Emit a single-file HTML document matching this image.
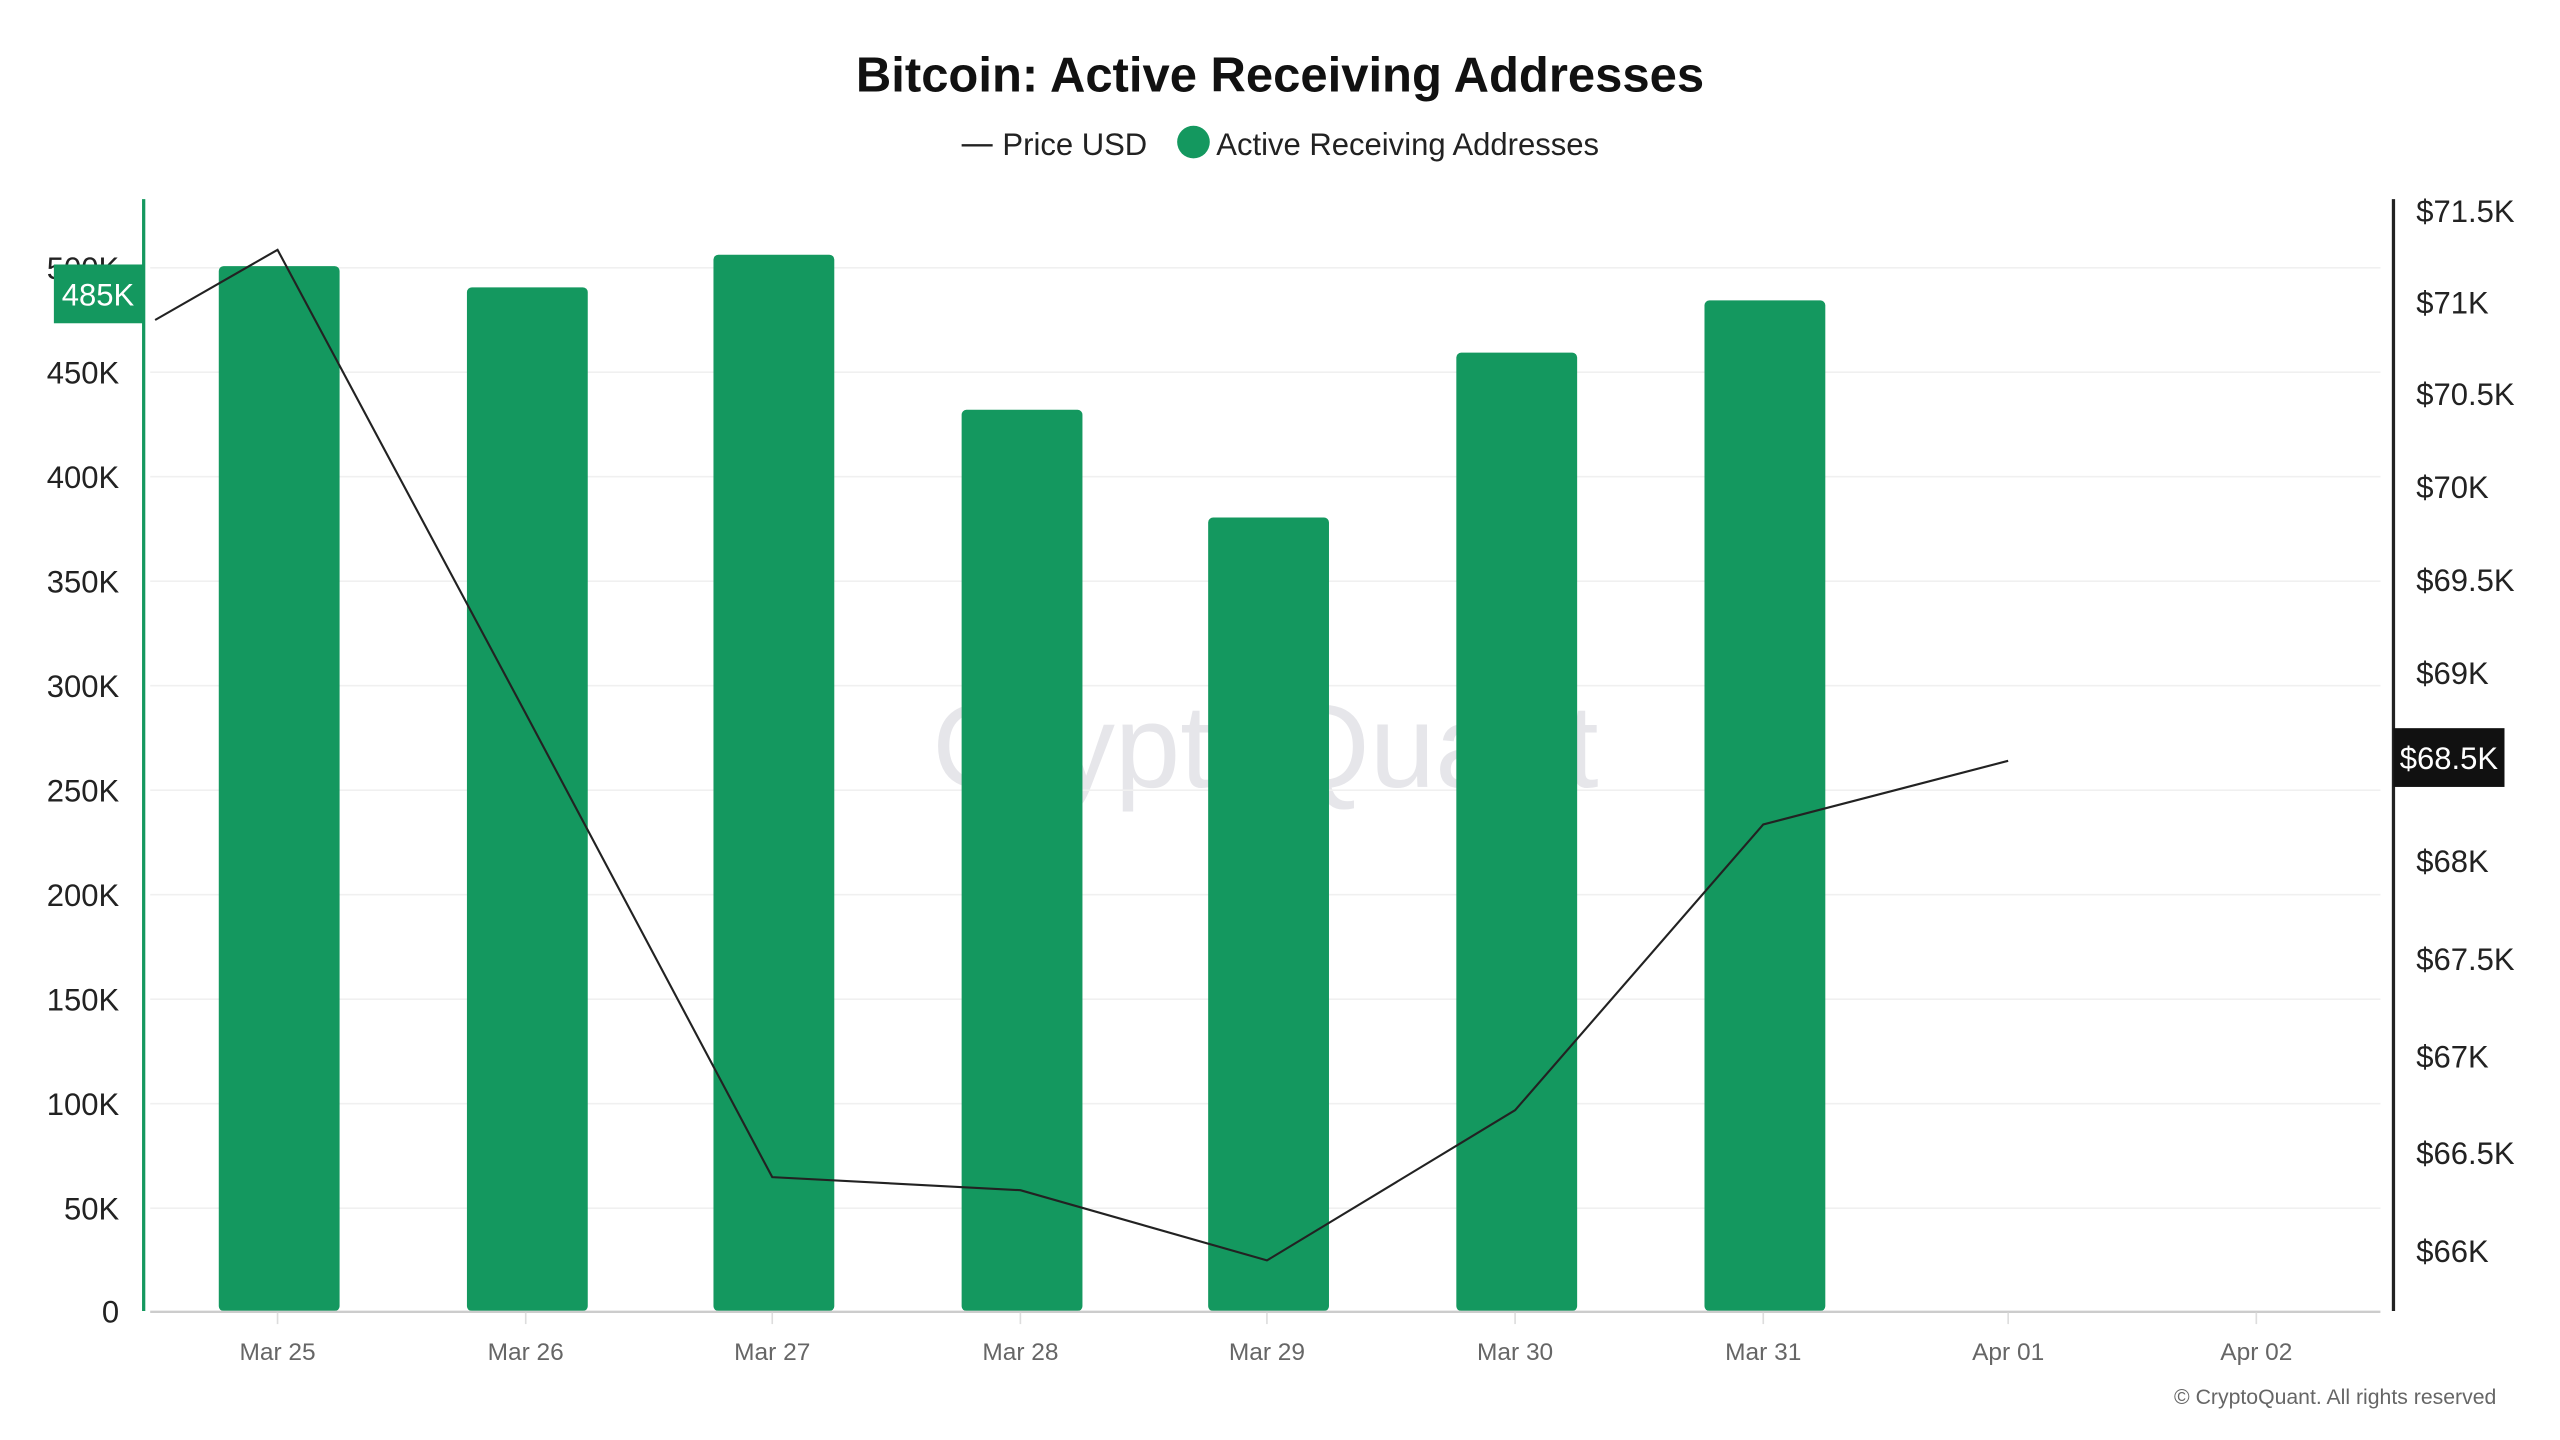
<!DOCTYPE html>
<html><head><meta charset="utf-8"><style>html,body{margin:0;padding:0;background:#fff}svg{display:block}</style></head>
<body>
<svg width="2560" height="1440" viewBox="0 0 1568 882" xmlns="http://www.w3.org/2000/svg" font-family="'Liberation Sans','DejaVu Sans',sans-serif">
<rect width="1568" height="882" fill="#fff"/>
<text x="784" y="56" text-anchor="middle" font-size="30" font-weight="bold" fill="#111">Bitcoin: Active Receiving Addresses</text>
<line x1="589" y1="89" x2="608" y2="89" stroke="#222" stroke-width="1.5"/>
<text x="614" y="95" font-size="19" fill="#222">Price USD</text>
<circle cx="731" cy="87" r="10" fill="#14985f"/>
<text x="745" y="95" font-size="19" fill="#222">Active Receiving Addresses</text>
<text x="775" y="482" text-anchor="middle" font-size="72" fill="#e6e6ea">CryptoQuant</text>
<g stroke="#f0f0f0" stroke-width="1">
<line x1="92" y1="164" x2="1458" y2="164"/><line x1="92" y1="228" x2="1458" y2="228"/><line x1="92" y1="292" x2="1458" y2="292"/><line x1="92" y1="356" x2="1458" y2="356"/><line x1="92" y1="420" x2="1458" y2="420"/><line x1="92" y1="484" x2="1458" y2="484"/><line x1="92" y1="548" x2="1458" y2="548"/><line x1="92" y1="612" x2="1458" y2="612"/><line x1="92" y1="676" x2="1458" y2="676"/><line x1="92" y1="740" x2="1458" y2="740"/>
</g>
<g fill="#14985f">
<rect x="134" y="163" width="74" height="640" rx="3"/>
<rect x="286" y="176" width="74" height="627" rx="3"/>
<rect x="437" y="156" width="74" height="647" rx="3"/>
<rect x="589" y="251" width="74" height="552" rx="3"/>
<rect x="740" y="317" width="74" height="486" rx="3"/>
<rect x="892" y="216" width="74" height="587" rx="3"/>
<rect x="1044" y="184" width="74" height="619" rx="3"/>
</g>
<polyline points="95,196 170,153 322,437 473,721 625,729 776,772 928,680 1080,505 1230,466" fill="none" stroke="#222" stroke-width="1.3"/>
<line x1="92" y1="803.5" x2="1458" y2="803.5" stroke="#ccc" stroke-width="1.5"/>
<g stroke="#ddd"><line x1="170" y1="804" x2="170" y2="811"/><line x1="322" y1="804" x2="322" y2="811"/><line x1="473" y1="804" x2="473" y2="811"/><line x1="625" y1="804" x2="625" y2="811"/><line x1="776" y1="804" x2="776" y2="811"/><line x1="928" y1="804" x2="928" y2="811"/><line x1="1080" y1="804" x2="1080" y2="811"/><line x1="1230" y1="804" x2="1230" y2="811"/><line x1="1382" y1="804" x2="1382" y2="811"/></g>
<g font-size="15" fill="#666" text-anchor="middle">
<text x="170" y="833">Mar 25</text><text x="322" y="833">Mar 26</text><text x="473" y="833">Mar 27</text><text x="625" y="833">Mar 28</text><text x="776" y="833">Mar 29</text><text x="928" y="833">Mar 30</text><text x="1080" y="833">Mar 31</text><text x="1230" y="833">Apr 01</text><text x="1382" y="833">Apr 02</text>
</g>
<line x1="88" y1="122" x2="88" y2="803" stroke="#14985f" stroke-width="2"/>
<g font-size="19" fill="#222" text-anchor="end">
<text x="73" y="171">500K</text><text x="73" y="235">450K</text><text x="73" y="299">400K</text><text x="73" y="363">350K</text><text x="73" y="427">300K</text><text x="73" y="491">250K</text><text x="73" y="555">200K</text><text x="73" y="619">150K</text><text x="73" y="683">100K</text><text x="73" y="747">50K</text><text x="73" y="810">0</text>
</g>
<rect x="33" y="162" width="55" height="36" fill="#14985f"/>
<text x="60" y="187" text-anchor="middle" font-size="19" fill="#fff">485K</text>
<line x1="1466" y1="122" x2="1466" y2="803" stroke="#222" stroke-width="2"/>
<g font-size="19" fill="#222">
<text x="1480" y="136">$71.5K</text><text x="1480" y="192">$71K</text><text x="1480" y="248">$70.5K</text><text x="1480" y="305">$70K</text><text x="1480" y="362">$69.5K</text><text x="1480" y="419">$69K</text><text x="1480" y="534">$68K</text><text x="1480" y="594">$67.5K</text><text x="1480" y="654">$67K</text><text x="1480" y="713">$66.5K</text><text x="1480" y="773">$66K</text>
</g>
<rect x="1466" y="446" width="68" height="36" fill="#111"/>
<text x="1500" y="471" text-anchor="middle" font-size="19" fill="#fff">$68.5K</text>
<text x="1529" y="860" text-anchor="end" font-size="13" fill="#666">© CryptoQuant. All rights reserved</text>
</svg>
</body></html>
